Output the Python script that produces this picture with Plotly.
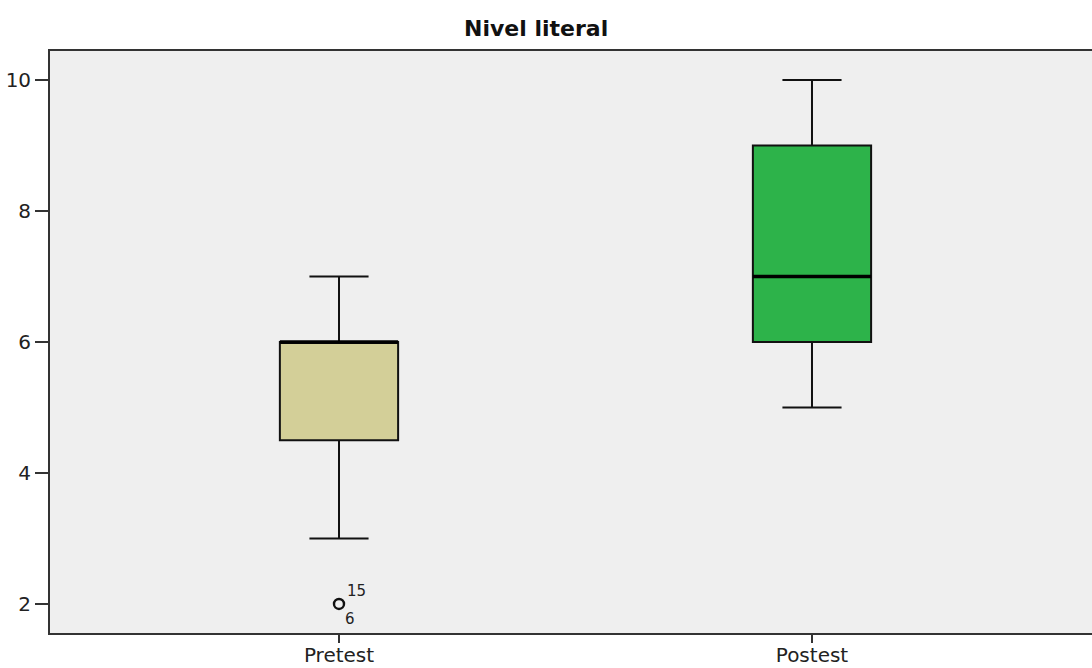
import plotly.graph_objects as go

categories = ["Pretest", "Postest"]
q1 = [4.5, 6.0]
median = [6.0, 7.0]
q3 = [6.0, 9.0]
lower_whisker = [3.0, 5.0]
upper_whisker = [7.0, 10.0]
fill_colors = ["#D3CF98", "#2DB34A"]
outlier_cat = [0]
outlier_val = [2.0]
outlier_labels_top = ["15"]
outlier_labels_bottom = ["6"]

box_w = 0.25
fig = go.Figure()
for i, cat in enumerate(categories):
    fig.add_trace(go.Box(
        x=[i], q1=[q1[i]], median=[median[i]], q3=[q3[i]],
        lowerfence=[lower_whisker[i]], upperfence=[upper_whisker[i]],
        width=box_w, whiskerwidth=0.5, fillcolor=fill_colors[i],
        line=dict(color="#111111", width=2), boxpoints=False,
        showlegend=False, hoverinfo="skip", name=cat,
    ))
    fig.add_trace(go.Scatter(
        x=[i - box_w / 2, i + box_w / 2], y=[median[i], median[i]],
        mode="lines", line=dict(color="#000000", width=3.5),
        showlegend=False, hoverinfo="skip",
    ))

fig.add_trace(go.Scatter(
    x=outlier_cat, y=outlier_val, mode="markers",
    marker=dict(symbol="circle-open", size=10, color="#111111", line=dict(width=2.4)),
    showlegend=False, hoverinfo="skip",
))
lab_font = dict(size=15, color="#222222", family="DejaVu Sans")
for xc, yv, top, bot in zip(outlier_cat, outlier_val, outlier_labels_top, outlier_labels_bottom):
    fig.add_annotation(x=xc, y=yv, text=top, showarrow=False, xanchor="left", yanchor="bottom",
                       xshift=6, yshift=2, font=lab_font)
    fig.add_annotation(x=xc, y=yv, text=bot, showarrow=False, xanchor="left", yanchor="top",
                       xshift=4, yshift=-4, font=lab_font)

fig.update_layout(
    width=1092, height=668,
    margin=dict(l=50, r=0, t=51, b=35),
    paper_bgcolor="white", plot_bgcolor="#EFEFEF",
    title=dict(text="<b>Nivel literal</b>", x=0.491, xanchor="center", y=0.958, yanchor="middle",
               font=dict(size=22, color="#111111", family="DejaVu Sans")),
    font=dict(family="DejaVu Sans", color="#222222"),
)
fig.update_xaxes(
    range=[-0.611, 1.592], tickmode="array", tickvals=[0, 1], ticktext=categories,
    showgrid=False, zeroline=False, showline=True, linecolor="#333333", linewidth=1.8,
    mirror=True, ticks="outside", ticklen=8, tickwidth=1.5, tickcolor="#333333",
    ticklabelstandoff=-5,
    tickfont=dict(size=20, color="#222222"), automargin=False,
)
fig.update_yaxes(
    range=[1.557, 10.443], tickvals=[2, 4, 6, 8, 10],
    showgrid=False, zeroline=False, showline=True, linecolor="#333333", linewidth=1.8,
    ticks="outside", ticklen=13, tickwidth=1.5, tickcolor="#333333", ticklabelstandoff=0,
    tickfont=dict(size=20, color="#222222"), automargin=False,
)

fig.write_html("out.html")
